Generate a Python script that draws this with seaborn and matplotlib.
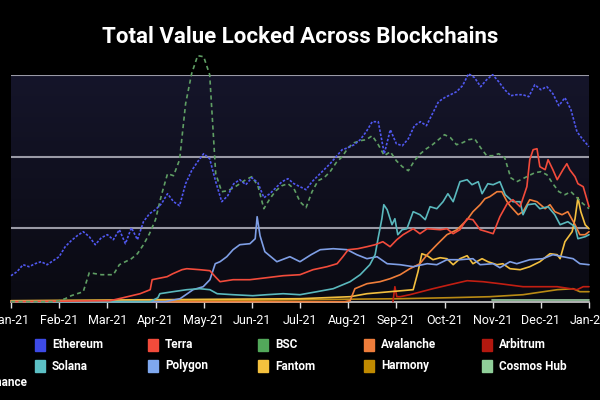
import numpy as np
import pandas as pd
import matplotlib.pyplot as plt
import seaborn as sns
from matplotlib.patches import Rectangle

# Month labels on the x axis (x runs 0..12 in months from Jan-21)
month_labels = ['Jan-21', 'Feb-21', 'Mar-21', 'Apr-21', 'May-21', 'Jun-21', 'Jul-21',
                'Aug-21', 'Sep-21', 'Oct-21', 'Nov-21', 'Dec-21', 'Jan-22']

# Ethereum and BSC read every 1/8 month
eighth_month = np.arange(97) / 8
eth_tvl = [26, 30, 37, 35, 38, 40, 37, 41, 45, 55, 61, 66, 70, 65, 57, 64, 67, 62, 72, 58,
           74, 62, 80, 88, 92, 98, 108, 100, 96, 118, 131, 140, 148, 143, 120, 100, 106, 118, 122, 117,
           124, 119, 104, 108, 114, 120, 123, 118, 115, 112, 120, 126, 132, 138, 145, 152, 154, 157, 162, 170,
           180, 180, 148, 172, 158, 156, 163, 176, 180, 176, 188, 200, 204, 207, 210, 216, 228, 224, 215, 222,
           227, 220, 212, 206, 207, 207, 205, 217, 212, 215, 208, 196, 204, 192, 170, 162, 155]
bsc_tvl = [0, 0, 0, 0, 0, 0, 0, 0, 1, 3, 6, 8, 10, 29, 28, 27, 27, 27, 37, 40,
           43, 48, 57, 68, 82, 107, 128, 126, 142, 198, 228, 246, 245, 227, 128, 110, 111, 114, 118, 122,
           125, 116, 93, 103, 111, 116, 118, 113, 100, 94, 110, 121, 124, 130, 139, 145, 154, 159, 161, 162,
           166, 157, 146, 150, 141, 135, 131, 141, 148, 153, 157, 162, 167, 164, 157, 159, 162, 163, 154, 146,
           146, 148, 144, 124, 120, 123, 126, 129, 130, 127, 118, 110, 107, 110, 104, 98, 93]

terra_month = [0, 2.06, 2.33, 2.68, 2.89, 2.93, 3.03, 3.24, 3.36, 3.55, 3.65, 3.92, 4.13, 4.24, 4.34,
               4.61, 4.96, 5.31, 5.65, 6.0, 6.27, 6.56, 6.77, 6.89, 7.0, 7.2, 7.39, 7.56, 7.72, 7.87,
               8.01, 8.14, 8.35, 8.49, 8.64, 8.91, 9.05, 9.18, 9.32, 9.47, 9.59, 9.74, 9.88, 10.01,
               10.15, 10.3, 10.42, 10.57, 10.71, 10.77, 10.84, 10.92, 10.98, 11.09, 11.15, 11.25,
               11.34, 11.46, 11.54, 11.6, 11.71, 11.77, 11.88, 12.0]
terra_tvl = [0, 1, 4, 8, 12, 22, 23, 25, 28, 32, 33, 32, 31, 25, 20, 22, 22, 24, 26, 27,
             32, 35, 38, 45, 52, 53, 55, 57, 60, 55, 62, 67, 73, 68, 73, 72, 73, 68, 72, 83,
             82, 72, 70, 68, 85, 98, 102, 95, 115, 142, 152, 153, 135, 132, 142, 132, 122, 132, 138, 132,
             125, 118, 115, 95]

solana_month = [0, 2.89, 3.05, 3.09, 3.36, 3.65, 3.92, 4.13, 4.28, 4.61, 5.02, 5.31, 5.65, 6.0, 6.35,
                6.69, 7.04, 7.25, 7.45, 7.56, 7.62, 7.7, 7.74, 7.81, 7.91, 7.97, 8.03, 8.12, 8.22, 8.35,
                8.49, 8.6, 8.7, 8.84, 8.97, 9.07, 9.18, 9.32, 9.47, 9.57, 9.7, 9.78, 9.9, 10.01, 10.15,
                10.26, 10.42, 10.57, 10.63, 10.73, 10.88, 10.98, 11.15, 11.29, 11.4, 11.56, 11.71,
                11.77, 11.92, 12.0]
solana_tvl = [0, 0, 4, 8, 10, 12, 13, 12, 8, 7, 6, 7, 8, 7, 10, 13, 20, 27, 37, 47,
              63, 83, 97, 92, 77, 83, 67, 72, 73, 90, 87, 82, 95, 93, 100, 108, 100, 120, 122, 117,
              120, 108, 118, 117, 120, 107, 100, 100, 87, 97, 98, 93, 95, 87, 77, 80, 75, 63, 65, 67]

polygon_month = [0, 3.2, 3.51, 3.78, 3.99, 4.13, 4.24, 4.34, 4.48, 4.61, 4.75, 4.96, 5.07, 5.11, 5.17,
                 5.27, 5.52, 5.79, 6.0, 6.23, 6.42, 6.69, 6.98, 7.18, 7.39, 7.6, 7.81, 8.08, 8.35, 8.64,
                 8.84, 9.05, 9.32, 9.59, 9.74, 10.01, 10.15, 10.36, 10.5, 10.77, 11.04, 11.25, 11.46,
                 11.67, 11.81, 12.0]
polygon_tvl = [0, 0, 3, 12, 15, 22, 38, 40, 45, 52, 57, 58, 63, 85, 66, 50, 40, 45, 40, 47,
               52, 53, 52, 47, 43, 45, 38, 37, 35, 38, 37, 42, 42, 43, 37, 38, 34, 40, 38, 42,
               43, 47, 45, 43, 38, 37]

avalanche_month = [0, 6.93, 7.04, 7.14, 7.39, 7.66, 7.87, 8.08, 8.28, 8.49, 8.64, 8.84, 9.05, 9.26,
                   9.47, 9.59, 9.74, 9.84, 9.94, 10.09, 10.19, 10.3, 10.36, 10.53, 10.63, 10.77, 10.92,
                   11.09, 11.19, 11.29, 11.44, 11.56, 11.71, 11.81, 11.92, 12.0]
avalanche_tvl = [0, 0, 1, 13, 18, 20, 23, 27, 33, 38, 47, 57, 67, 72, 82, 90, 97, 103, 105, 110,
                 110, 100, 96, 87, 90, 102, 100, 93, 97, 90, 87, 90, 77, 67, 67, 70]

fantom_month = [0, 6.0, 7.04, 7.39, 8.35, 8.45, 8.53, 8.64, 8.76, 8.91, 9.05, 9.18, 9.32, 9.47, 9.59,
                9.78, 9.9, 10.09, 10.21, 10.36, 10.57, 10.77, 10.98, 11.19, 11.34, 11.4, 11.5, 11.65,
                11.71, 11.77, 11.83, 11.92, 12.0]
fantom_tvl = [1, 3, 5, 8, 12, 30, 48, 46, 42, 44, 43, 37, 43, 46, 38, 43, 40, 37, 38, 33,
              32, 35, 40, 48, 47, 43, 60, 70, 83, 104, 90, 77, 73]

arbitrum_month = [7.93, 7.97, 8.01, 8.08, 8.28, 8.76, 9.11, 9.47, 9.8, 10.15, 10.63, 11.34, 11.75, 11.88, 12.0]
arbitrum_tvl = [0, 15, 5, 5, 7, 13, 17, 21, 20, 18, 15, 15, 12, 15, 15]

harmony_month = [0, 3.92, 6.0, 8.08, 9.11, 9.94, 10.63, 11.34, 11.67, 11.81, 12.0]
harmony_tvl = [0.5, 1, 2, 3, 4, 5, 7, 12, 13, 10, 10]

cosmos_month = [9.99, 12.0]
cosmos_tvl = [2, 2]

chains = ['Ethereum', 'Terra', 'BSC', 'Avalanche', 'Arbitrum',
          'Solana', 'Polygon', 'Fantom', 'Harmony', 'Cosmos Hub']
colors = {'Ethereum': '#5058f0', 'Terra': '#f24b3b', 'BSC': '#5f9e64', 'Avalanche': '#f07e3a',
          'Arbitrum': '#c21e12', 'Solana': '#5ab8bd', 'Polygon': '#7f9fe6', 'Fantom': '#f3bf3f',
          'Harmony': '#b98a14', 'Cosmos Hub': '#9ccfa4'}
legend_colors = {'Ethereum': '#3d4ae6', 'Terra': '#f24b3b', 'BSC': '#52a85a', 'Avalanche': '#ee7d3b',
                 'Arbitrum': '#b3180f', 'Solana': '#5cc0c5', 'Polygon': '#7fa8ef', 'Fantom': '#f4c13e',
                 'Harmony': '#c08a00', 'Cosmos Hub': '#8fcf99'}

series = {
    'Ethereum': (eighth_month, eth_tvl),
    'Terra': (terra_month, terra_tvl),
    'BSC': (eighth_month, bsc_tvl),
    'Avalanche': (avalanche_month, avalanche_tvl),
    'Arbitrum': (arbitrum_month, arbitrum_tvl),
    'Solana': (solana_month, solana_tvl),
    'Polygon': (polygon_month, polygon_tvl),
    'Fantom': (fantom_month, fantom_tvl),
    'Harmony': (harmony_month, harmony_tvl),
    'Cosmos Hub': (cosmos_month, cosmos_tvl),
}
df = pd.concat([pd.DataFrame({'month': m, 'tvl': v, 'chain': name})
                for name, (m, v) in series.items()], ignore_index=True)

sns.set_style('dark')
plt.rcParams['font.family'] = ['Roboto', 'DejaVu Sans']

fig = plt.figure(figsize=(6, 4), dpi=100, facecolor='black')
ax = fig.add_axes([11 / 600, 1 - 301.7 / 400, 578 / 600, 226.7 / 400])
ax.set_facecolor('#0e0e1a')

# dark navy gradient behind the lines
grad = np.linspace(0, 1, 256).reshape(-1, 1)
ax.imshow(grad, cmap=sns.blend_palette(['#0a0a12', '#15152a'], as_cmap=True),
          extent=(0, 1, 0, 1), transform=ax.transAxes, aspect='auto', origin='lower', zorder=0)

dash_map = {c: '' for c in chains}
dash_map['Ethereum'] = (1.5, 1)
dash_map['BSC'] = (2.5, 2)
order_drawn = ['Cosmos Hub', 'Harmony', 'Arbitrum', 'Fantom', 'Avalanche', 'Polygon',
               'Solana', 'Terra', 'BSC', 'Ethereum']
sns.lineplot(data=df, x='month', y='tvl', hue='chain', style='chain',
             hue_order=order_drawn, style_order=order_drawn, palette=colors, dashes=dash_map,
             estimator=None, sort=False, linewidth=1.2, legend=False, ax=ax, zorder=3)
for ln in ax.lines:
    ln.set_clip_on(False)

ax.set_xlim(0, 12)
ax.set_ylim(0, 226.7)
for g in [73.7, 145, 226.7]:
    ax.axhline(g, color='#9a9aa6', lw=1.5, zorder=2)

ax.set_xticks(range(13))
ax.set_xticklabels(month_labels)
ax.set_yticks([])
ax.tick_params(axis='x', colors='#dddddd', labelcolor='white', length=4, width=1,
               labelsize=9, pad=5, bottom=True)
ax.set_xlabel('')
ax.set_ylabel('')
for s in ['top', 'left', 'right']:
    ax.spines[s].set_visible(False)
ax.spines['bottom'].set_color('#cfcfcf')
ax.spines['bottom'].set_linewidth(1.2)
ax.grid(False)

fig.text(0.5, 1 - 37 / 400, 'Total Value Locked Across Blockchains', color='white',
         fontsize=16, fontweight='bold', ha='center', va='center')

# legend, 2 rows x 5 columns
col_x = [40, 153, 263, 369, 487]
row_y = [345, 366]
for i, name in enumerate(chains):
    cx, cy = col_x[i % 5], row_y[i // 5]
    fig.add_artist(Rectangle(((cx - 5) / 600, 1 - (cy + 6) / 400), 10 / 600, 12 / 400,
                             transform=fig.transFigure, color=legend_colors[name]))
    fig.text((cx + 12) / 600, 1 - cy / 400, name, color='white', fontsize=8.5,
             fontweight='bold', va='center', ha='left')

fig.text(27 / 600, 1 - 383 / 400, 'Source: Binance', color='white', fontsize=8.5,
         fontweight='bold', va='center', ha='right')

fig.savefig('out.png', dpi=100, facecolor='black')
